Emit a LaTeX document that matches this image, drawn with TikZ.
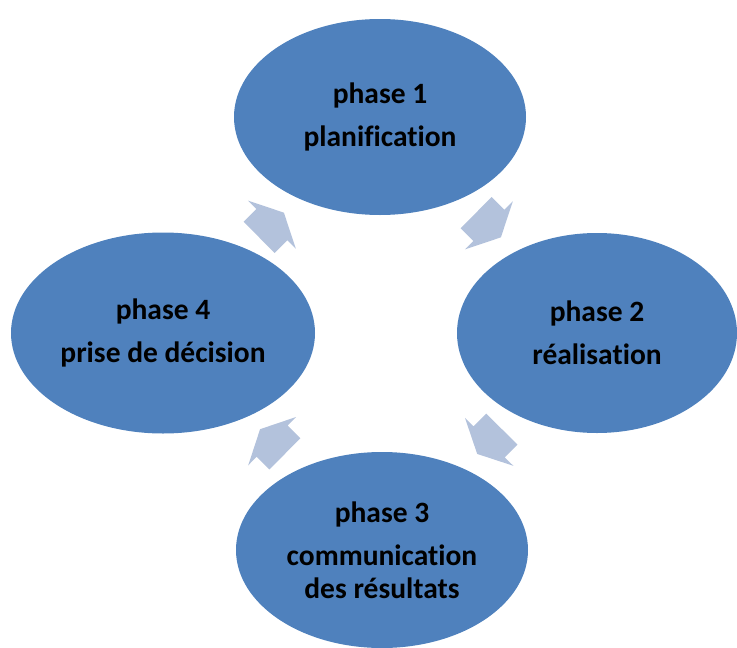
\documentclass[tikz,border=0pt]{standalone}
\usepackage{fontspec}
\setmainfont{Carlito}[Ligatures=NoCommon]
\usetikzlibrary{calc,shapes.geometric}
\definecolor{phasefill}{HTML}{4F81BD}
\definecolor{arrowfill}{HTML}{B3C2DC}
\tikzset{
  phase/.style={ellipse, fill=phasefill, inner sep=0pt, align=center,
    font=\bfseries\fontsize{29.5}{33}\selectfont, text=black},
  cyclearrow/.pic={
    \fill[arrowfill] (-17.5,-22) -- (0.5,-22) -- (0.5,-34) -- (17.5,0)
      -- (0.5,34) -- (0.5,22) -- (-17.5,22) -- cycle;}
}
\begin{document}
\begin{tikzpicture}[x=1pt,y=-1pt]
\useasboundingbox (0,0) rectangle (737,648);
\node[phase, minimum width=292pt, minimum height=196pt] (p1) at (380,117)
  {phase 1\\[10pt]planification};
\node[phase, minimum width=280pt, minimum height=200pt] (p2) at (597,333)
  {phase 2\\[10pt]réalisation};
\node[phase, minimum width=292pt, minimum height=196pt] (p3) at (382,550)
  {phase 3\\[10pt]communication\\des résultats};
\node[phase, minimum width=304pt, minimum height=201pt] (p4) at (163,333)
  {phase 4\\[10pt]prise de décision};
\path (p4.center) -- pic[sloped, allow upside down, pos=0.5] {cyclearrow} (p1.center);
\path (p1.center) -- pic[sloped, allow upside down, pos=0.5] {cyclearrow} (p2.center);
\path (p2.center) -- pic[sloped, allow upside down, pos=0.5] {cyclearrow} (p3.center);
\path (p3.center) -- pic[sloped, allow upside down, pos=0.5] {cyclearrow} (p4.center);
\end{tikzpicture}
\end{document}
